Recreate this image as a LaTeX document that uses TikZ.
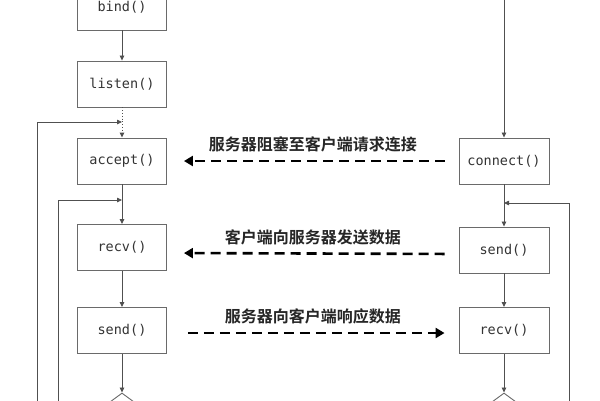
\documentclass[tikz,border=0pt]{standalone}
\usepackage{fontspec}
\setmonofont{DejaVu Sans Mono}
\newfontfamily\cjk{Noto Sans CJK SC}[BoldFont={Noto Sans CJK SC Bold}]
\usetikzlibrary{arrows.meta,shapes.geometric}
\definecolor{boxline}{HTML}{6A6A6A}
\definecolor{flowline}{HTML}{505050}
\definecolor{txt}{HTML}{333333}
\tikzset{
  fnbox/.style={draw=boxline, line width=0.9pt, minimum width=89pt, minimum height=46pt,
    inner sep=0pt, font=\ttfamily\fontsize{13.5}{14}\selectfont, text=txt},
  decide/.style={draw=boxline, line width=0.9pt, diamond, minimum width=60pt, minimum height=44pt, inner sep=0pt},
  flow/.style={draw=flowline, line width=0.8pt, -{Triangle[length=5pt,width=4.5pt]}},
  dasharrow/.style={line width=2.6pt, dash pattern=on 10pt off 6pt, -{Triangle[length=9pt,width=10pt]}},
  lbl/.style={font=\cjk\bfseries\fontsize{16}{18}\selectfont, text=black!85}
}
\begin{document}
\begin{tikzpicture}[x=1pt,y=-1pt]
\clip (0,0) rectangle (600,400);
\fill[white] (0,0) rectangle (600,400);
% left column
\node[fnbox] (bind)   at (122,7)     {bind()};
\node[fnbox] (listen) at (122,84)    {listen()};
\node[fnbox] (accept) at (122,161)   {accept()};
\node[fnbox] (recvL)  at (122,247.5) {recv()};
\node[fnbox] (sendL)  at (122,330.5) {send()};
\node[decide] (dL)    at (122,415)   {};
% right column
\node[fnbox, minimum width=90pt] (connect) at (504,161) {connect()};
\node[fnbox, minimum width=90pt] (sendR)   at (504,250) {send()};
\node[fnbox, minimum width=90pt] (recvR)   at (504,330.5) {recv()};
\node[decide] (dR) at (504,415) {};
\coordinate (topR) at (504,-5);
% loop coordinates
\coordinate (oL) at (37,420);
\coordinate (jL) at (122,122);
\coordinate (iL) at (58,420);
\coordinate (kL) at (122,200);
\coordinate (oR) at (569,420);
\coordinate (kR) at (504,203);
% flows left
\draw[flow] (bind) -- (listen);
\draw[flow, dotted, line width=0.9pt] (listen) -- (accept);
\draw[flow] (accept) -- (recvL);
\draw[flow] (recvL) -- (sendL);
\draw[flow] (sendL) -- (dL);
\draw[flow] (oL) |- (jL);
\draw[flow] (iL) |- (kL);
% flows right
\draw[flow] (topR) -- (connect);
\draw[flow] (connect) -- (sendR);
\draw[flow] (sendR) -- (recvR);
\draw[flow] (recvR) -- (dR);
\draw[flow] (oR) |- (kR);
% dashed messages
\draw[dasharrow, shorten <=14pt, shorten >=17pt] (connect.west) -- (accept.east)
  node[lbl, midway, above=4pt] {服务器阻塞至客户端请求连接};
\draw[dasharrow, shorten <=14pt, shorten >=17pt] ([yshift=-4pt]sendR.west) -- ([yshift=-5.5pt]recvL.east)
  node[lbl, midway, above=4pt] {客户端向服务器发送数据};
\draw[dasharrow, shorten <=21pt, shorten >=14pt] ([yshift=-2.5pt]sendL.east) -- ([yshift=-2.5pt]recvR.west)
  node[lbl, midway, above=4pt] {服务器向客户端响应数据};
\end{tikzpicture}
\end{document}
